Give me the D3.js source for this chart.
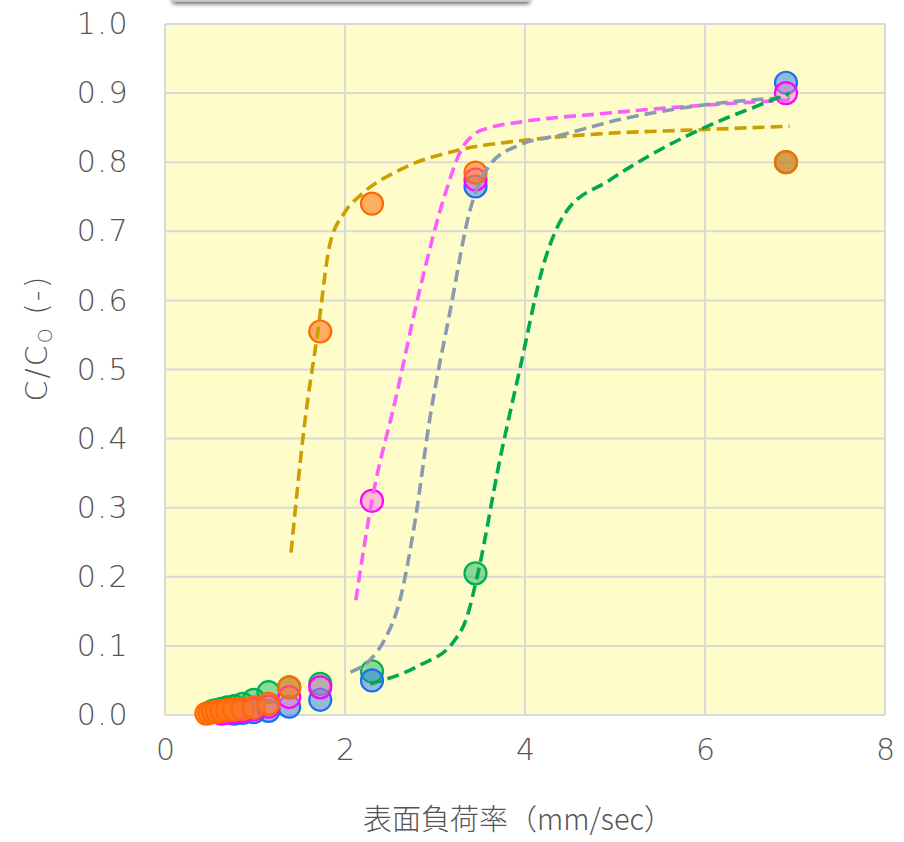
<!DOCTYPE html>
<html>
<head>
<meta charset="utf-8">
<script src="https://cdn.jsdelivr.net/npm/d3@7"></script>
<style>
  html, body { margin: 0; padding: 0; background: #ffffff; }
  svg { display: block; }
  .tick-label { font-family: "DejaVu Sans", sans-serif; font-weight: 200; fill: #555555; letter-spacing: 1.5px; }
</style>
</head>
<body>
<svg id="chart" width="904" height="842"></svg>
<script>
// Surface loading rate (mm/sec) for each sampling step
const loadRates = [6.9, 3.45, 2.3, 1.725, 1.38, 1.15, 0.986, 0.8625, 0.767, 0.69, 0.627, 0.575, 0.531, 0.493, 0.46];

// Measured C/C0 per run (null = not plotted)
const greenValues   = [0.80, 0.205, 0.063, 0.045, 0.040, 0.033, 0.022, 0.016, 0.013, 0.011, 0.009, 0.007, 0.006, null, null];
const blueValues    = [0.915, 0.765, 0.050, 0.022, 0.012, 0.006, 0.004, 0.003, 0.002, null, null, null, null, null, null];
const magentaValues = [0.90, 0.775, 0.31, 0.040, 0.026, 0.012, 0.008, 0.006, 0.004, 0.003, 0.002, null, null, null, null];
const orangeValues  = [0.80, 0.785, 0.74, 0.555, 0.040, 0.016, 0.011, 0.009, 0.008, 0.007, 0.006, 0.005, 0.004, 0.003, 0.002];

// Fitted curves per run
const goldFitX    = [1.40, 1.55, 1.70, 1.83, 2.00, 2.17, 2.61, 3.28, 3.94, 4.83, 5.94, 6.94];
const goldFitY    = [0.235, 0.42, 0.557, 0.68, 0.728, 0.752, 0.789, 0.818, 0.831, 0.841, 0.847, 0.852];
const magentaFitX = [2.12, 2.30, 2.56, 2.83, 3.11, 3.30, 3.45, 3.61, 3.94, 4.83, 5.94, 6.94];
const magentaFitY = [0.166, 0.311, 0.456, 0.615, 0.753, 0.820, 0.842, 0.850, 0.858, 0.870, 0.882, 0.890];
const grayFitX    = [2.06, 2.28, 2.44, 2.61, 2.78, 2.94, 3.17, 3.39, 3.61, 3.94, 4.39, 5.06, 5.94, 6.94];
const grayFitY    = [0.062, 0.080, 0.109, 0.166, 0.282, 0.427, 0.586, 0.731, 0.796, 0.825, 0.839, 0.862, 0.882, 0.894];
const greenFitX   = [2.28, 2.83, 3.20, 3.35, 3.48, 3.72, 3.94, 4.22, 4.45, 4.94, 5.50, 6.06, 6.61, 6.94];
const greenFitY   = [0.045, 0.072, 0.105, 0.140, 0.207, 0.369, 0.499, 0.658, 0.727, 0.774, 0.818, 0.854, 0.883, 0.900];

// Axis ticks
const xTicks = [0, 2, 4, 6, 8];
const yTicks = [0, 0.1, 0.2, 0.3, 0.4, 0.5, 0.6, 0.7, 0.8, 0.9, 1.0];

const svg = d3.select("#chart");
const plot = { left: 165, right: 885, top: 24, bottom: 715 };

const x = d3.scaleLinear().domain([0, 8]).range([plot.left, plot.right]);
const y = d3.scaleLinear().domain([0, 1]).range([plot.bottom, plot.top]);

// Shadowed bar peeking in at the top edge
const defs = svg.append("defs");
const shadow = defs.append("filter").attr("id", "shadow")
  .attr("x", "-10%").attr("y", "-50%").attr("width", "120%").attr("height", "300%");
shadow.append("feGaussianBlur").attr("in", "SourceAlpha").attr("stdDeviation", 2.2).attr("result", "b");
shadow.append("feOffset").attr("in", "b").attr("dy", 2).attr("result", "o");
shadow.append("feComponentTransfer").attr("in", "o").attr("result", "s")
  .append("feFuncA").attr("type", "linear").attr("slope", 0.6);
const merge = shadow.append("feMerge");
merge.append("feMergeNode").attr("in", "s");
merge.append("feMergeNode").attr("in", "SourceGraphic");
svg.append("rect")
  .attr("x", 172).attr("y", -30).attr("width", 358).attr("height", 32).attr("rx", 3)
  .attr("fill", "#c8c8c8").attr("filter", "url(#shadow)");

// Plot background
svg.append("rect")
  .attr("x", plot.left).attr("y", plot.top)
  .attr("width", plot.right - plot.left).attr("height", plot.bottom - plot.top)
  .attr("fill", "#fefdca");

// Grid lines
const grid = svg.append("g").attr("stroke", "#d9d9d9").attr("stroke-width", 2);
grid.selectAll("line.v").data(xTicks).join("line")
  .attr("x1", d => x(d)).attr("x2", d => x(d))
  .attr("y1", plot.top).attr("y2", plot.bottom);
grid.selectAll("line.h").data(yTicks).join("line")
  .attr("x1", plot.left).attr("x2", plot.right)
  .attr("y1", d => y(d)).attr("y2", d => y(d));

// Axes (labels only; grid supplies the lines)
const xAxis = svg.append("g").attr("transform", `translate(0,${plot.bottom})`)
  .call(d3.axisBottom(x).tickValues(xTicks).tickSize(0).tickPadding(24).tickFormat(d3.format("d")));
const yAxis = svg.append("g").attr("transform", `translate(${plot.left},0)`)
  .call(d3.axisLeft(y).tickValues(yTicks).tickSize(0).tickPadding(36).tickFormat(d3.format(".1f")));
[xAxis, yAxis].forEach(a => {
  a.select(".domain").remove();
  a.selectAll("text").attr("class", "tick-label").attr("font-size", 30);
});
// keep the x labels centred despite the letter spacing
xAxis.selectAll("text").style("letter-spacing", "0px");

// Markers
const series = [
  { values: greenValues,   stroke: "#00b050", fill: "rgba(0,176,80,0.45)" },
  { values: blueValues,    stroke: "#1a6ff0", fill: "rgba(40,120,240,0.5)" },
  { values: magentaValues, stroke: "#ff00ff", fill: "rgba(255,110,210,0.45)" },
  { values: orangeValues,  stroke: "#ff6a00", fill: "rgba(255,120,30,0.6)" }
];
series.forEach(s => {
  const pts = loadRates.map((r, i) => [r, s.values[i]]).filter(p => p[1] !== null).reverse();
  svg.append("g").selectAll("circle").data(pts).join("circle")
    .attr("cx", d => x(d[0])).attr("cy", d => y(d[1])).attr("r", 11)
    .attr("fill", s.fill).attr("stroke", s.stroke).attr("stroke-width", 2.2);
});

// Fitted dashed curves
const fits = [
  { xs: goldFitX,    ys: goldFitY,    color: "#cc9e00" },
  { xs: magentaFitX, ys: magentaFitY, color: "#ff5cff" },
  { xs: grayFitX,    ys: grayFitY,    color: "#8a9ab0" },
  { xs: greenFitX,   ys: greenFitY,   color: "#00a84f" }
];
const line = d3.line().x(d => x(d[0])).y(d => y(d[1])).curve(d3.curveMonotoneX);
fits.forEach(f => {
  svg.append("path")
    .datum(f.xs.map((v, i) => [v, f.ys[i]]))
    .attr("d", line)
    .attr("fill", "none").attr("stroke", f.color)
    .attr("stroke-width", 3.6).attr("stroke-dasharray", "12,6");
});

// Axis titles
svg.append("text")
  .attr("x", 518).attr("y", 830)
  .attr("text-anchor", "middle")
  .attr("font-family", "'Noto Sans CJK JP', sans-serif")
  .attr("font-weight", 300)
  .attr("font-size", 29).attr("fill", "#555555")
  .text("表面負荷率（mm/sec）");

const yTitle = svg.append("text")
  .attr("transform", "translate(47,338) rotate(-90)")
  .attr("text-anchor", "middle")
  .attr("font-family", "'DejaVu Sans', sans-serif")
  .attr("font-weight", 200)
  .attr("letter-spacing", 2)
  .attr("font-size", 30).attr("fill", "#555555");
yTitle.append("tspan").text("C/C");
yTitle.append("tspan").attr("font-size", 19).attr("dy", 5).text("O");
yTitle.append("tspan").attr("dy", -5).text(" (-)");
</script>
</body>
</html>
